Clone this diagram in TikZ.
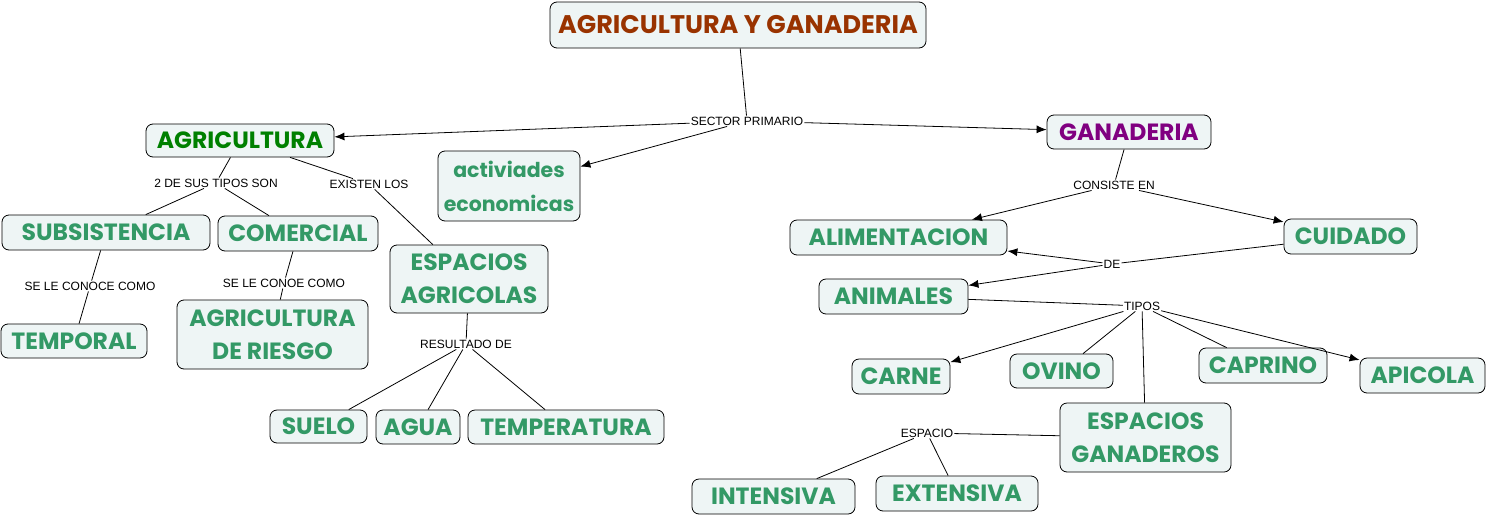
\documentclass[tikz,border=0pt]{standalone}
\usepackage{fontspec}
\usepackage{tikz}
\usetikzlibrary{arrows.meta}
\newfontfamily\conceptfont{Poppins}
\newfontfamily\linkfont{Liberation Sans}
\definecolor{titlebrown}{RGB}{153,51,0}
\definecolor{agrigreen}{RGB}{0,128,0}
\definecolor{ganpurple}{RGB}{128,0,128}
\definecolor{conceptgreen}{RGB}{51,153,102}
\definecolor{boxfill}{RGB}{238,245,245}
\tikzset{
  concept/.style={draw=black, line width=0.8pt, rounded corners=7pt, fill=boxfill,
    inner sep=0pt, align=center, text=conceptgreen,
    font=\conceptfont\bfseries\fontsize{23.5}{33}\selectfont},
  linkword/.style={inner sep=1pt, font=\linkfont\fontsize{12}{14}\selectfont},
  conn/.style={line width=0.8pt},
  arr/.style={conn, -{Latex[length=10pt,width=8pt]}}
}

\begin{document}
\begin{tikzpicture}[x=1pt,y=-1pt]
  \useasboundingbox (0,0) rectangle (1488,517);
  % Concepts
  \node[concept, minimum width=376pt, minimum height=46pt, text=titlebrown,
    font=\conceptfont\bfseries\fontsize{25.5}{30}\selectfont] (title) at (738,25) {AGRICULTURA Y GANADERIA};
  \node[concept, minimum width=188pt, minimum height=33pt, text=agrigreen] (agri) at (240,140.5) {AGRICULTURA};
  \node[concept, minimum width=142pt, minimum height=70pt,
    font=\conceptfont\bfseries\fontsize{20.5}{34}\selectfont] (activ) at (509,186) {activiades\\economicas};
  \node[concept, minimum width=164pt, minimum height=34pt, text=ganpurple] (gana) at (1129,132) {GANADERIA};
  \node[concept, minimum width=208pt, minimum height=35pt] (subs) at (106,232.5) {SUBSISTENCIA};
  \node[concept, minimum width=160pt, minimum height=35pt] (comer) at (298,233.5) {COMERCIAL};
  \node[concept, minimum width=158pt, minimum height=68pt] (espagri) at (469,279) {ESPACIOS\\AGRICOLAS};
  \node[concept, minimum width=146pt, minimum height=34pt] (tempo) at (74,341) {TEMPORAL};
  \node[concept, minimum width=191pt, minimum height=69pt] (riesgo) at (272.5,334.5) {AGRICULTURA\\DE RIESGO};
  \node[concept, minimum width=97pt, minimum height=33pt] (suelo) at (318.5,426.5) {SUELO};
  \node[concept, minimum width=84pt, minimum height=34pt] (agua) at (418,427) {AGUA};
  \node[concept, minimum width=196pt, minimum height=34pt] (tempe) at (566,427) {TEMPERATURA};
  \node[concept, minimum width=217pt, minimum height=35pt] (alim) at (898.5,237.5) {ALIMENTACION};
  \node[concept, minimum width=133pt, minimum height=35pt] (cuid) at (1350.5,236.5) {CUIDADO};
  \node[concept, minimum width=149pt, minimum height=35pt] (anim) at (893.5,296.5) {ANIMALES};
  \node[concept, minimum width=98pt, minimum height=35pt] (carne) at (901,376.5) {CARNE};
  \node[concept, minimum width=103pt, minimum height=34pt] (ovino) at (1061.5,371) {OVINO};
  \node[concept, minimum width=128pt, minimum height=35pt] (capri) at (1263,365.5) {CAPRINO};
  \node[concept, minimum width=125pt, minimum height=35pt] (apic) at (1422.5,375.5) {APICOLA};
  \node[concept, minimum width=171pt, minimum height=69pt] (espgan) at (1145.5,437.5) {ESPACIOS\\GANADEROS};
  \node[concept, minimum width=163pt, minimum height=35pt] (inten) at (773.5,496.5) {INTENSIVA};
  \node[concept, minimum width=162pt, minimum height=35pt] (exten) at (957,493.5) {EXTENSIVA};

  % Linking words
  \node[linkword] (sector) at (747,121) {SECTOR PRIMARIO};
  \node[linkword] (dostipos) at (216,183) {2 DE SUS TIPOS SON};
  \node[linkword] (existen) at (369,184) {EXISTEN LOS};
  \node[linkword] (conoce) at (90,286) {SE LE CONOCE COMO};
  \node[linkword] (conoe) at (284,283) {SE LE CONOE COMO};
  \node[linkword] (result) at (466,344) {RESULTADO DE};
  \node[linkword] (consiste) at (1114,185) {CONSISTE EN};
  \node[linkword] (de) at (1112,264) {DE};
  \node[linkword] (tipos) at (1142,306) {TIPOS};
  \node[linkword] (espacio) at (927,433) {ESPACIO};

  % Connectors
  \draw[conn] (title) -- (sector);
  \draw[arr] (sector) -- (agri);
  \draw[arr] (sector) -- (activ);
  \draw[arr] (sector) -- (gana);
  \draw[conn] (agri) -- (dostipos);
  \draw[conn] (dostipos) -- (subs);
  \draw[conn] (dostipos) -- (comer);
  \draw[conn] (agri) -- (existen);
  \draw[conn] (existen) -- (espagri);
  \draw[conn] (subs) -- (conoce);
  \draw[conn] (conoce) -- (tempo);
  \draw[conn] (comer) -- (conoe);
  \draw[conn] (conoe) -- (riesgo);
  \draw[conn] (espagri) -- (result);
  \draw[conn] (result) -- (suelo);
  \draw[conn] (result) -- (agua);
  \draw[conn] (result) -- (tempe);
  \draw[conn] (gana) -- (consiste);
  \draw[arr] (consiste) -- (alim);
  \draw[arr] (consiste) -- (cuid);
  \draw[conn] (cuid) -- (de);
  \draw[arr] (de) -- (alim);
  \draw[arr] (de) -- (anim);
  \draw[conn] (anim) -- (tipos);
  \draw[arr] (tipos) -- (carne);
  \draw[conn] (tipos) -- (ovino);
  \draw[conn] (tipos) -- (capri);
  \draw[arr] (tipos) -- (apic);
  \draw[conn] (tipos) -- (espgan);
  \draw[conn] (espgan) -- (espacio);
  \draw[conn] (espacio) -- (inten);
  \draw[conn] (espacio) -- (exten);
\end{tikzpicture}
\end{document}
